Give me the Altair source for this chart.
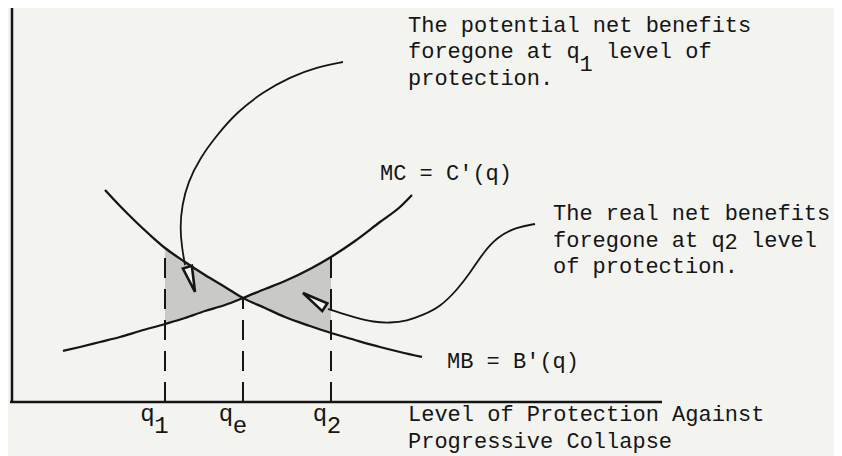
import altair as alt
import pandas as pd

BG = "#f3f3f0"
INK = "#151515"

# ---- curves (diagram units: origin at the axes' corner) ----
mb_x = [93, 108, 123, 138, 153, 173, 193, 213, 231, 253, 273, 298, 319, 343, 368, 388, 410]
mb_y = [212, 196, 181, 167, 154, 140, 127, 115, 104, 94, 85, 76, 69, 62, 55, 50, 45]
mc_x = [51, 68, 88, 108, 128, 153, 173, 193, 213, 231, 253, 273, 298, 319, 343, 368, 388, 400]
mc_y = [51, 55, 60, 65, 71, 78, 84, 91, 97, 104, 113, 121, 133, 145, 161, 180, 195, 207]

q_names = ["q1", "qe", "q2"]
q_pos = [153, 231, 319]

# annotation arrows
arrow1_x = [331, 305, 278, 251, 225, 205, 188, 176, 170, 168, 170, 173]
arrow1_y = [340, 335, 325, 310, 290, 267, 244, 220, 197, 174, 154, 137]
arrow2_x = [523, 505, 485, 471, 458, 445, 428, 411, 395, 378, 361, 345, 328, 316]
arrow2_y = [178, 175, 165, 149, 129, 112, 95, 87, 81, 79, 80, 84, 89, 93]
head_x = [183, 291]
head_y = [110, 109]
head_angle = [343, 123]

# axes
axis_x0 = [0, -2]
axis_y0 = [0, 0]
axis_x1 = [0, 650]
axis_y1 = [394, 0]

# texts
txt = ["The potential net benefits", "foregone at q", "1", "level of", "protection.",
       "MC = C'(q)",
       "The real net benefits", "foregone at q", "2", "level", "of protection.",
       "MB = B'(q)",
       "Level of Protection Against", "Progressive Collapse"]
txt_x = [396, 396, 567.6, 594, 396,
         368,
         541, 541, 712.6, 739, 541,
         435,
         396, 396]
txt_y = [370, 344, 331, 344, 317,
         222,
         182, 155, 153, 155, 129,
         34,
         -19, -46]

tick_txt = ["q", "1", "q", "e", "q", "2"]
tick_x = [135.5, 149.5, 214, 228, 308, 322]
tick_y = [-19, -31, -19, -31, -19, -31]

# ---- tables ----
mb = dict(zip(mb_x, mb_y))
mc = dict(zip(mc_x, mc_y))
curves = pd.concat([
    pd.DataFrame({"x": mb_x, "y": mb_y, "curve": "MB"}),
    pd.DataFrame({"x": mc_x, "y": mc_y, "curve": "MC"}),
])
shade_rows = []
for x in mb_x:
    if q_pos[0] <= x <= q_pos[1]:
        shade_rows.append({"x": x, "top": mb[x], "bot": mc[x], "region": "left"})
    if q_pos[1] <= x <= q_pos[2]:
        shade_rows.append({"x": x, "top": mc[x], "bot": mb[x], "region": "right"})
shade = pd.DataFrame(shade_rows)

dash = pd.DataFrame({
    "x": q_pos,
    "y0": [0, 0, 0],
    "y1": [mb[q_pos[0]], mb[q_pos[1]], mc[q_pos[2]]],
})
axes = pd.DataFrame({"x": axis_x0, "y": axis_y0, "x2": axis_x1, "y2": axis_y1})
arrows = pd.concat([
    pd.DataFrame({"x": arrow1_x, "y": arrow1_y, "i": range(len(arrow1_x)), "arrow": "a1"}),
    pd.DataFrame({"x": arrow2_x, "y": arrow2_y, "i": range(len(arrow2_x)), "arrow": "a2"}),
])
heads = pd.DataFrame({"x": head_x, "y": head_y, "angle": head_angle})
texts = pd.DataFrame({"text": txt, "x": txt_x, "y": txt_y})
ticks = pd.DataFrame({"text": tick_txt, "x": tick_x, "y": tick_y})

xs = alt.Scale(domain=[-4, 822], nice=False, zero=False)
ys = alt.Scale(domain=[-54, 394], nice=False, zero=False)
X = alt.X("x:Q", scale=xs, axis=None)
Y = alt.Y("y:Q", scale=ys, axis=None)

shade_l = alt.Chart(shade).mark_area(color="#c9c9c6", interpolate="monotone", opacity=1).encode(
    x=X, y=alt.Y("top:Q", scale=ys, axis=None), y2="bot:Q", detail="region:N")

curve_l = alt.Chart(curves).mark_line(color=INK, strokeWidth=2.3, interpolate="monotone").encode(
    x=X, y=Y, detail="curve:N")

dash_l = alt.Chart(dash).mark_rule(color=INK, strokeWidth=2, strokeDash=[20, 11]).encode(
    x=X, y=alt.Y("y0:Q", scale=ys, axis=None), y2="y1:Q")

axes_l = alt.Chart(axes).mark_rule(color=INK, strokeWidth=2.5).encode(
    x=X, y=Y, x2="x2:Q", y2="y2:Q")

arrow_l = alt.Chart(arrows).mark_line(color=INK, strokeWidth=1.8, interpolate="basis").encode(
    x=X, y=Y, detail="arrow:N", order="i:Q")

head_l = alt.Chart(heads).mark_point(
    shape="M0,0L-0.36,-2L0.36,-2Z", size=676, filled=True, fill=BG, stroke=INK,
    strokeWidth=2.6, opacity=1).encode(x=X, y=Y, angle=alt.Angle("angle:Q", scale=None))

text_l = alt.Chart(texts).mark_text(
    align="left", baseline="alphabetic", font="Liberation Mono", fontSize=22, color=INK).encode(
    x=X, y=Y, text="text:N")

tick_l = alt.Chart(ticks).mark_text(
    align="center", baseline="alphabetic", font="Liberation Mono", fontSize=24, color=INK).encode(
    x=X, y=Y, text="text:N")

chart = alt.layer(shade_l, curve_l, dash_l, axes_l, arrow_l, head_l, text_l, tick_l).properties(
    width=826, height=448, padding=0, background=BG,
    autosize=alt.AutoSizeParams(type="none"),
).configure_view(stroke=None)

chart.save("out.html", embed_options={"renderer": "svg", "actions": False})
